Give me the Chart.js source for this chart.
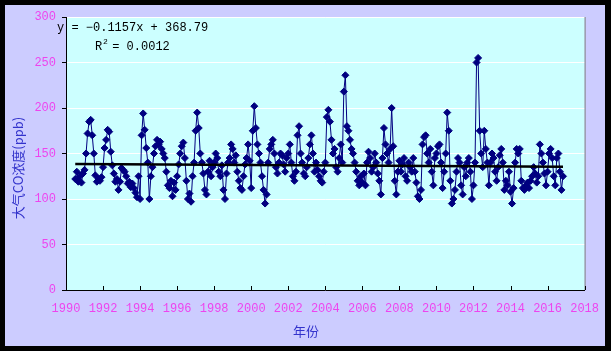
<!DOCTYPE html>
<html>
<head>
<meta charset="utf-8">
<script src="https://cdn.jsdelivr.net/npm/chart.js@4/dist/chart.umd.min.js"></script>
<style>
  html, body { margin: 0; padding: 0; background: #000; }
  #wrap { width: 611px; height: 351px; }
</style>
</head>
<body>
<div id="wrap"><canvas id="c" width="611" height="351"></canvas></div>
<script>
// monthly CO, first value = July 1990
const startYear = 1990;
const startMonth = 7;

const co1990s = [
  122, 130, 119, 125, 118, 128,
  132, 150, 172, 185, 187, 170, 150, 126, 119, 122, 120, 124,
  135, 156, 165, 176, 174, 152, 137, 128, 119, 122, 110, 119,
  134, 132, 130, 125, 117, 119, 113, 117, 112, 107, 102, 125,
  100, 170, 194, 176, 156, 140, 100, 125, 135, 150, 158, 165,
  160, 163, 155, 150, 145, 130, 115, 112, 120, 103, 118, 110,
  125, 138, 150, 158, 162, 145, 120, 100, 106, 97, 125, 140,
  175, 195, 178, 150, 140, 128, 110, 105, 130, 142, 125, 135,
  140, 150, 145, 130, 125, 137, 110, 100, 128, 140, 145, 160,
  155, 140, 148, 130, 120, 112, 110, 125, 138, 145, 160, 142
];
const co2000s = [
  112, 175, 202, 178, 160, 150, 140, 125, 110, 95, 105, 140,
  155, 160, 165, 150, 135, 128, 140, 150, 148, 138, 130, 145,
  150, 160, 140, 125, 120, 130, 170, 180, 150, 140, 128, 125,
  135, 145, 160, 170, 150, 130, 140, 132, 125, 120, 118, 130,
  140, 190, 198, 185, 165, 150, 155, 135, 130, 145, 160, 140,
  218, 236, 180, 175, 165, 155, 150, 140, 130, 120, 115, 125,
  118, 128, 115, 140, 152, 145, 130, 135, 150, 140, 128, 120,
  105, 145, 178, 160, 150, 140, 155, 200, 158, 120, 105, 130,
  142, 130, 138, 145, 125, 120, 140, 135, 130, 145, 130, 118,
  103, 100, 110, 160, 168, 170, 150, 140, 155, 130, 115, 145
];
const co2010s = [
  150, 158, 160, 140, 112, 130, 150, 195, 175, 120, 95, 100,
  110, 130, 145, 140, 115, 105, 135, 125, 140, 145, 130, 100,
  115, 140, 250, 255, 175, 150, 135, 175, 155, 140, 115, 140,
  150, 145, 130, 120, 135, 148, 155, 140, 110, 120, 115, 130,
  108, 95, 112, 140, 155, 150, 155, 120, 112, 110, 115, 118,
  112, 120, 125, 135, 128, 118, 125, 160, 150, 140, 128, 115,
  130, 150, 155, 145, 125, 115, 145, 150, 130, 110, 125
];

const xTicks = [1990, 1992, 1994, 1996, 1998, 2000, 2002, 2004, 2006, 2008, 2010, 2012, 2014, 2016, 2018];
const yTicks = [0, 50, 100, 150, 200, 250, 300];

// trend line from the equation printed on the chart
const trendSlope = -0.1157;
const trendIntercept = 368.79;

const allCo = co1990s.concat(co2000s, co2010s);
const points = allCo.map((v, i) => ({ x: startYear + (startMonth - 1 + i) / 12, y: v }));
const firstX = points[0].x;
const lastX = points[points.length - 1].x;
const trend = [
  { x: firstX, y: trendSlope * firstX + trendIntercept },
  { x: lastX, y: trendSlope * lastX + trendIntercept }
];

const monoFont = '"Liberation Mono", "DejaVu Sans Mono", monospace';
const pink = '#ee44ee';
const blue = '#3333cc';

const decor = {
  id: 'decor',
  beforeDraw(chart) {
    const ctx = chart.ctx;
    const a = chart.chartArea;
    ctx.save();
    ctx.fillStyle = '#000';
    ctx.fillRect(0, 0, chart.width, chart.height);
    ctx.fillStyle = '#ccccff';
    ctx.fillRect(5, 5, chart.width - 11, chart.height - 10);
    ctx.fillStyle = '#ccffff';
    ctx.fillRect(a.left, a.top, a.right - a.left, a.bottom - a.top);
    ctx.restore();
  },
  afterDraw(chart) {
    const ctx = chart.ctx;
    const a = chart.chartArea;
    const xs = chart.scales.x;
    ctx.save();
    // right edge of plot area
    ctx.strokeStyle = '#808080';
    ctx.lineWidth = 1;
    ctx.beginPath();
    ctx.moveTo(a.right + 0.5, a.top);
    ctx.lineTo(a.right + 0.5, a.bottom);
    ctx.stroke();
    // x ticks point inward
    ctx.strokeStyle = '#000';
    ctx.beginPath();
    xTicks.forEach(t => {
      const px = Math.round(xs.getPixelForValue(t)) + 0.5;
      ctx.moveTo(px, a.bottom);
      ctx.lineTo(px, a.bottom - 4);
    });
    ctx.stroke();
    // regression text
    ctx.fillStyle = '#000';
    ctx.font = '12px ' + monoFont;
    ctx.textBaseline = 'middle';
    ctx.textAlign = 'left';
    ctx.fillText('y = \u22120.1157x + 368.79', 57, 28);
    ctx.fillText('R', 95, 47);
    ctx.font = '8px ' + monoFont;
    ctx.fillText('2', 103, 42);
    ctx.font = '12px ' + monoFont;
    ctx.fillText(' = 0.0012', 105, 47);
    // axis titles
    ctx.fillStyle = blue;
    ctx.font = '13px "Noto Sans CJK SC", sans-serif';
    ctx.textAlign = 'center';
    ctx.fillText('年份', 306, 331);
    ctx.translate(18, 168);
    ctx.rotate(-Math.PI / 2);
    ctx.fillText('大气CO浓度(ppb)', 0, 0);
    ctx.restore();
  }
};

new Chart(document.getElementById('c'), {
  type: 'line',
  data: {
    datasets: [
      {
        data: trend,
        borderColor: '#000',
        borderWidth: 2.5,
        pointRadius: 0,
        fill: false
      },
      {
        data: points,
        borderColor: '#000080',
        backgroundColor: '#000080',
        borderWidth: 1,
        pointStyle: 'rectRot',
        pointRadius: 3.5,
        pointBorderWidth: 1,
        tension: 0,
        fill: false
      }
    ]
  },
  options: {
    responsive: false,
    animation: false,
    layout: { padding: { top: 17, right: 23, left: 0, bottom: 0 } },
    plugins: { legend: { display: false }, tooltip: { enabled: false } },
    scales: {
      x: {
        type: 'linear',
        min: 1990,
        max: 2018,
        afterFit(s) { s.height = 61; },
        afterBuildTicks(s) { s.ticks = xTicks.map(v => ({ value: v })); },
        grid: { display: false, drawTicks: false },
        border: { color: '#000', width: 1 },
        ticks: {
          color: pink,
          padding: 12,
          maxRotation: 0,
          autoSkip: false,
          font: { family: monoFont, size: 12 },
          callback: v => String(v)
        }
      },
      y: {
        min: 0,
        max: 300,
        afterFit(s) { s.width = 66; },
        afterBuildTicks(s) { s.ticks = yTicks.map(v => ({ value: v })); },
        grid: { color: '#ffffff', lineWidth: 1, tickColor: '#000', tickLength: 4 },
        border: { color: '#000', width: 1 },
        ticks: {
          color: pink,
          padding: 6,
          font: { family: monoFont, size: 12 },
          callback: v => String(v)
        }
      }
    }
  },
  plugins: [decor]
});
</script>
</body>
</html>
